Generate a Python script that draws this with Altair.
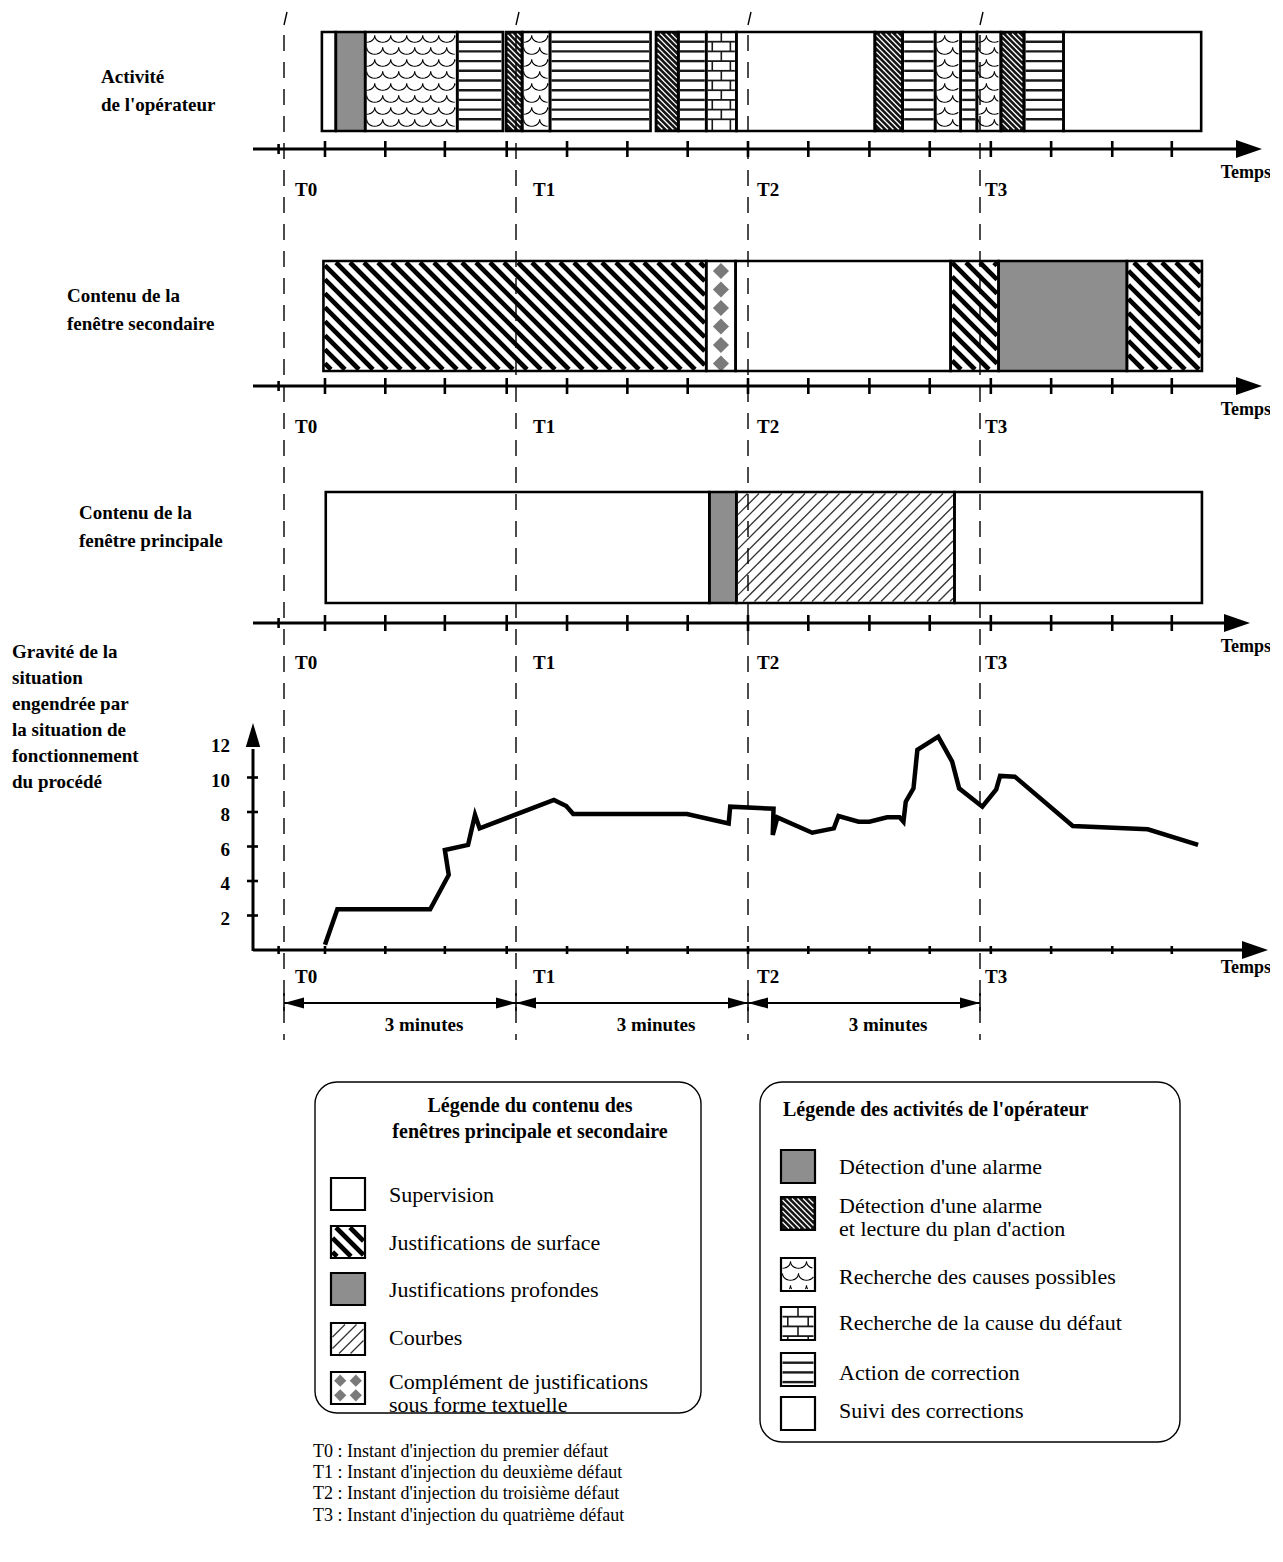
import math
import altair as alt
import pandas as pd

# ------------------------------------------------------------------ data
# time in minutes after T0 (T0..T3 three minutes apart)
T_MIN = [0, 3, 6, 9]
T_NAMES = ["T0", "T1", "T2", "T3"]
TICKS_MIN = [-0.07, 0.53, 1.31, 2.08, 2.88, 3.66, 4.44, 5.22, 6.00,
             6.78, 7.57, 8.35, 9.14, 9.92, 10.71, 11.48]

ACT_START = [0.49, 0.67, 1.05, 2.24, 2.87, 3.08, 3.44, 4.81, 5.10, 5.46,
             5.85, 7.64, 8.00, 8.42, 8.75, 8.96, 9.27, 9.57, 10.08]
ACT_END = [0.67, 1.05, 2.24, 2.83, 3.08, 3.44, 4.74, 5.10, 5.46, 5.85,
           7.64, 8.00, 8.42, 8.75, 8.96, 9.27, 9.57, 10.08, 11.86]
ACT_KIND = ["Suivi des corrections", "Détection d'une alarme",
            "Recherche des causes possibles", "Action de correction",
            "Détection d'une alarme et lecture du plan d'action",
            "Recherche des causes possibles", "Action de correction",
            "Détection d'une alarme et lecture du plan d'action",
            "Action de correction", "Recherche de la cause du défaut",
            "Suivi des corrections",
            "Détection d'une alarme et lecture du plan d'action",
            "Action de correction", "Recherche des causes possibles",
            "Action de correction", "Recherche des causes possibles",
            "Détection d'une alarme et lecture du plan d'action",
            "Action de correction", "Suivi des corrections"]

SEC_START = [0.51, 5.46, 5.84, 8.62, 9.24, 10.90]
SEC_END = [5.46, 5.84, 8.62, 9.24, 10.90, 11.87]
SEC_KIND = ["Justifications de surface",
            "Complément de justifications sous forme textuelle",
            "Supervision", "Justifications de surface",
            "Justifications profondes", "Justifications de surface"]

PRI_START = [0.54, 5.50, 5.85, 8.67]
PRI_END = [5.50, 5.85, 8.67, 11.87]
PRI_KIND = ["Supervision", "Justifications profondes", "Courbes", "Supervision"]

GRAV_T = [0.53, 0.69, 1.89, 2.13, 2.08, 2.38, 2.47, 2.53, 3.49, 3.65,
          3.74, 5.21, 5.75, 5.77, 6.33, 6.32, 6.38, 6.83, 7.11, 7.17,
          7.43, 7.57, 7.80, 7.96, 8.01, 8.04, 8.14, 8.19, 8.46, 8.64,
          8.73, 9.03, 9.21, 9.26, 9.45, 10.20, 11.17, 11.82]
GRAV_V = [0.3, 2.36, 2.36, 4.35, 5.8, 6.09, 7.83, 7.05, 8.70, 8.35,
          7.88, 7.88, 7.34, 8.31, 8.19, 6.67, 7.69, 6.80, 7.05, 7.77,
          7.44, 7.44, 7.69, 7.69, 7.44, 8.6, 9.37, 11.6, 12.37, 10.92,
          9.37, 8.31, 9.31, 10.09, 10.05, 7.19, 7.0, 6.09]
GRAV_TICKS = [2, 4, 6, 8, 10, 12]

LANE_LABELS = ["Activité\nde l'opérateur",
               "Contenu de la\nfenêtre secondaire",
               "Contenu de la\nfenêtre principale"]
GRAV_LABEL = ("Gravité de la\nsituation\nengendrée par\nla situation de\n"
              "fonctionnement\ndu procédé")
AXIS_LABEL = "Temps"
DURATION_LABEL = "3 minutes"

LEG_CONTENT_TITLE = "Légende du contenu des\nfenêtres principale et secondaire"
LEG_CONTENT = ["Supervision", "Justifications de surface",
               "Justifications profondes", "Courbes",
               "Complément de justifications sous forme textuelle"]
LEG_ACT_TITLE = "Légende des activités de l'opérateur"
LEG_ACT = ["Détection d'une alarme",
           "Détection d'une alarme et lecture du plan d'action",
           "Recherche des causes possibles",
           "Recherche de la cause du défaut",
           "Action de correction", "Suivi des corrections"]
WRAP = {"Complément de justifications sous forme textuelle":
        "Complément de justifications\nsous forme textuelle",
        "Détection d'une alarme et lecture du plan d'action":
        "Détection d'une alarme\net lecture du plan d'action"}
FOOTNOTES = ["T0 : Instant d'injection du premier défaut",
             "T1 : Instant d'injection du deuxième défaut",
             "T2 : Instant d'injection du troisième défaut",
             "T3 : Instant d'injection du quatrième défaut"]

# ------------------------------------------------------------------ styles / layout (page px)
W, H = 1262, 1534
M = 8
FONT = "Liberation Serif"
X_T0, X_T3 = 284, 980
PPM = (X_T3 - X_T0) / 9.0
AXIS_Y = [149, 386, 623, 950]
AXIS_X0 = 253
ARROW_TIP = [1262, 1262, 1250, 1268]
TICK_HALF = [8, 8, 8, 4]
LANES = {"act": (32, 131), "sec": (261, 371), "pri": (492, 603)}
T_LABEL_X = [295, 533, 757, 985]
T_LABEL_DY = [41, 41, 40, 27]
TEMPS_DY = [24, 24, 24, 18]
G_AXIS_X = 253
G_ZERO_Y, G_TOP_Y = 950, 743
DUR_Y = 1003
DASH_TOP, DASH_BOT = 35, 1040

PAT = {
    "Supervision": "white",
    "Justifications de surface": "surface",
    "Justifications profondes": "grey",
    "Courbes": "courbes",
    "Complément de justifications sous forme textuelle": "diamonds",
    "Détection d'une alarme": "grey",
    "Détection d'une alarme et lecture du plan d'action": "dark",
    "Recherche des causes possibles": "scales",
    "Recherche de la cause du défaut": "bricks",
    "Action de correction": "hlines",
    "Suivi des corrections": "white",
}
PATS = ["white", "surface", "grey", "courbes", "diamonds", "dark",
        "scales", "bricks", "hlines"]
PAT_FILL = ["#ffffff", "#ffffff", "#8e8e8e", "#ffffff", "#ffffff",
            "#141414", "#ffffff", "#ffffff", "#ffffff"]


def mpx(m):
    return X_T0 + m * PPM


XMIN = alt.Scale(domain=[0, 9], range=[X_T0 - M, X_T3 - M], zero=False, nice=False)
XPIX = alt.Scale(domain=[M, M + W], range=[0, W], zero=False, nice=False)
YPIX = alt.Scale(domain=[M, M + H], range=[0, H], zero=False, nice=False)
YGRAV = alt.Scale(domain=[0, 12], range=[G_ZERO_Y - M, G_TOP_Y - M], zero=False, nice=False)


def xm(f):
    return alt.X(f"{f}:Q", scale=XMIN, axis=None)


def xp(f):
    return alt.X(f"{f}:Q", scale=XPIX, axis=None)


def yp(f):
    return alt.Y(f"{f}:Q", scale=YPIX, axis=None)


# ------------------------------------------------------------------ pattern decoration
rules, arcs, dias = [], [], []


def add_rule(xa, ya, xb, yb, col, sw):
    rules.append(dict(x=xa, y=ya, x2=xb, y2=yb, col=col, sw=sw))


def stripes(x0, x1, y0, y1, period, direction):
    h = y1 - y0
    out = []
    k0 = int(math.floor((x0 - h) / period)) - 1
    k1 = int(math.ceil((x1 + h) / period)) + 1
    for k in range(k0, k1 + 1):
        c = k * period
        if direction == 1:
            ta, tb = max(0.0, x0 - c), min(h, x1 - c)
            if tb - ta > 1.5:
                out.append((c + ta, y0 + ta, c + tb, y0 + tb))
        else:
            ta, tb = max(0.0, c - x1), min(h, c - x0)
            if tb - ta > 1.5:
                out.append((c - ta, y0 + ta, c - tb, y0 + tb))
    return out


def hline_ys(y0, y1, step):
    ys, y = [], y0 + step
    while y < y1 - 2:
        ys.append(y)
        y += step
    return ys


def scale_arcs(x0, x1, y0, y1, w=16.0, rowh=12.0, depth=0.85):
    r = w / 2
    row, yc = 0, y0 + 2
    while yc < y1:
        off = 0 if row % 2 == 0 else r
        cx = x0 + off - w
        while cx - r < x1:
            pts = [(cx - r * math.cos(math.pi * j / 12),
                    yc + depth * r * math.sin(math.pi * j / 12)) for j in range(13)]
            run = []
            for p in pts:
                if x0 <= p[0] <= x1 and y0 <= p[1] <= y1:
                    run.append(p)
                else:
                    if len(run) > 1:
                        arcs.append(run)
                    run = []
            if len(run) > 1:
                arcs.append(run)
            cx += w
        yc += rowh
        row += 1


def decorate(x0, x1, y0, y1, pat):
    ix0, ix1, iy0, iy1 = x0 + 1.5, x1 - 1.5, y0 + 1.5, y1 - 1.5
    w, h = x1 - x0, y1 - y0
    if pat == "surface":
        for s in stripes(ix0, ix1, iy0, iy1, 14.0, 1):
            add_rule(*s, "#000000", 4.6)
    elif pat == "dark":
        for s in stripes(ix0, ix1, iy0, iy1, 5.5, 1):
            add_rule(*s, "#ffffff", 1.3)
    elif pat == "courbes":
        for s in stripes(ix0, ix1, iy0, iy1, 11.5, -1):
            add_rule(*s, "#333333", 1.3)
    elif pat == "hlines":
        for y in hline_ys(y0, y1, 9.7):
            add_rule(ix0, y, ix1, y, "#1a1a1a", 2.4)
    elif pat == "bricks":
        ys = hline_ys(y0, y1, 9.7)
        for y in ys:
            add_rule(ix0, y, ix1, y, "#1a1a1a", 1.8)
        bounds = [y0] + ys + [y1]
        for r in range(len(bounds) - 1):
            xs = [x0 + 0.5 * w] if r % 2 == 0 else [x0 + 0.2 * w, x0 + 0.8 * w]
            for xv in xs:
                add_rule(xv, bounds[r], xv, bounds[r + 1], "#1a1a1a", 1.6)
    elif pat == "scales":
        scale_arcs(ix0, ix1, iy0, iy1)
    elif pat == "diamonds":
        if h > 50:
            y = y0 + 10
            while y + 6 < y1:
                dias.append(dict(x=(x0 + x1) / 2, y=y, s=260))
                y += 18.5
        else:
            for fx in (0.27, 0.73):
                for fy in (0.27, 0.73):
                    dias.append(dict(x=x0 + fx * w, y=y0 + fy * h, s=150))


# timeline segments
segs = []
for lane, starts, ends, kinds in [("act", ACT_START, ACT_END, ACT_KIND),
                                  ("sec", SEC_START, SEC_END, SEC_KIND),
                                  ("pri", PRI_START, PRI_END, PRI_KIND)]:
    top, bot = LANES[lane]
    for s, e, k in zip(starts, ends, kinds):
        segs.append(dict(s=s, e=e, top=top, bot=bot, pat=PAT[k]))
        decorate(mpx(s), mpx(e), top, bot, PAT[k])
seg_df = pd.DataFrame(segs)

# legend swatches and labels (y = centre of the first text line)
LEFT_TOPS = [1178, 1226, 1273, 1323, 1372]
RIGHT_TOPS = [1150, 1197, 1258, 1307, 1353, 1397]
LEFT_TEXT_Y = [1195, 1243, 1290, 1338, 1382]
RIGHT_TEXT_Y = [1167, 1206, 1277, 1323, 1373, 1411]
sw_rows, leg_txt = [], []
for i, k in enumerate(LEG_CONTENT):
    x0, x1, y0 = 331, 365, LEFT_TOPS[i]
    sw_rows.append(dict(xa=x0, xb=x1, top=y0, bot=y0 + 32, pat=PAT[k]))
    decorate(x0, x1, y0, y0 + 32, PAT[k])
    leg_txt.append(dict(x=389, y=LEFT_TEXT_Y[i], t=WRAP.get(k, k)))
for i, k in enumerate(LEG_ACT):
    x0, x1, y0 = 781, 815, RIGHT_TOPS[i]
    sw_rows.append(dict(xa=x0, xb=x1, top=y0, bot=y0 + 33, pat=PAT[k]))
    decorate(x0, x1, y0, y0 + 33, PAT[k])
    leg_txt.append(dict(x=839, y=RIGHT_TEXT_Y[i], t=WRAP.get(k, k)))
sw_df = pd.DataFrame(sw_rows)
leg_txt_df = pd.DataFrame(leg_txt)

rules_df = pd.DataFrame(rules)
arc_rows = []
for g, run in enumerate(arcs):
    for i, (xv, yv) in enumerate(run):
        arc_rows.append(dict(x=xv, y=yv, g=g, i=i))
arcs_df = pd.DataFrame(arc_rows)
dias_df = pd.DataFrame(dias)

color_fill = alt.Color("pat:N", scale=alt.Scale(domain=PATS, range=PAT_FILL), legend=None)

# ------------------------------------------------------------------ layers
layers = []

# legend frames
boxes = pd.DataFrame([dict(xa=315, xb=701, top=1082, bot=1413),
                      dict(xa=760, xb=1180, top=1082, bot=1442)])
layers.append(alt.Chart(boxes).mark_rect(cornerRadius=22, fillOpacity=0, stroke="black",
                                         strokeWidth=1.4).encode(
    x=xp("xa"), x2="xb", y=yp("top"), y2="bot"))

# fills
layers.append(alt.Chart(seg_df).mark_rect(strokeWidth=0).encode(
    x=xm("s"), x2="e", y=yp("top"), y2="bot", color=color_fill))
layers.append(alt.Chart(sw_df).mark_rect(strokeWidth=0).encode(
    x=xp("xa"), x2="xb", y=yp("top"), y2="bot", color=color_fill))

# hatching
layers.append(alt.Chart(rules_df).mark_rule().encode(
    x=xp("x"), x2="x2", y=yp("y"), y2="y2",
    color=alt.Color("col:N", scale=None),
    strokeWidth=alt.StrokeWidth("sw:Q", scale=None)))
layers.append(alt.Chart(arcs_df).mark_line(color="black", strokeWidth=1.1).encode(
    x=xp("x"), y=yp("y"), detail="g:N", order="i:Q"))
layers.append(alt.Chart(dias_df).mark_point(shape="diamond", filled=True, color="#7a7a7a",
                                            opacity=1).encode(
    x=xp("x"), y=yp("y"), size=alt.Size("s:Q", scale=None)))

# outlines
layers.append(alt.Chart(seg_df).mark_rect(fillOpacity=0, stroke="black", strokeWidth=2.6).encode(
    x=xm("s"), x2="e", y=yp("top"), y2="bot"))
layers.append(alt.Chart(sw_df).mark_rect(fillOpacity=0, stroke="black", strokeWidth=2.2).encode(
    x=xp("xa"), x2="xb", y=yp("top"), y2="bot"))

# time axes
axis_df = pd.DataFrame([dict(xa=AXIS_X0, xb=ARROW_TIP[i] - 22, y=AXIS_Y[i]) for i in range(4)])
layers.append(alt.Chart(axis_df).mark_rule(color="black", strokeWidth=3).encode(
    x=xp("xa"), x2="xb", y=yp("y")))
tick_rows = []
for i, ay in enumerate(AXIS_Y):
    for j, t in enumerate(TICKS_MIN):
        hh = TICK_HALF[i] if (j > 0 or i == 3) else 5
        tick_rows.append(dict(t=t, ya=ay - hh, yb=ay + hh))
layers.append(alt.Chart(pd.DataFrame(tick_rows)).mark_rule(color="black", strokeWidth=2.6).encode(
    x=xm("t"), y=yp("ya"), y2="yb"))
arrow_df = pd.DataFrame([dict(x=ARROW_TIP[i] - 13, y=AXIS_Y[i]) for i in range(4)])
layers.append(alt.Chart(arrow_df).mark_point(shape="M -1 -0.7 L 1 0 L -1 0.7 Z", filled=True,
                                             size=676, color="black", opacity=1).encode(
    x=xp("x"), y=yp("y")))

# T reference lines
t_df = pd.DataFrame(dict(t=T_MIN, ya=[DASH_TOP] * 4, yb=[DASH_BOT] * 4,
                         sa=[25] * 4, sb=[12] * 4))
layers.append(alt.Chart(t_df).mark_rule(color="black", strokeWidth=1.4, strokeDash=[16, 11]).encode(
    x=xm("t"), y=yp("ya"), y2="yb"))
layers.append(alt.Chart(t_df).mark_rule(color="black", strokeWidth=1.4, x2Offset=3).encode(
    x=xm("t"), x2="t", y=yp("sa"), y2="sb"))

# durations
dur_df = pd.DataFrame(dict(a=T_MIN[:-1], b=T_MIN[1:],
                           mid=[(a + b) / 2 for a, b in zip(T_MIN[:-1], T_MIN[1:])],
                           y=[DUR_Y] * 3, ty=[1025] * 3, lab=[DURATION_LABEL] * 3))
layers.append(alt.Chart(dur_df).mark_rule(color="black", strokeWidth=2).encode(
    x=xm("a"), x2="b", y=yp("y")))
layers.append(alt.Chart(dur_df).mark_point(shape="M 1 -0.55 L -1 0 L 1 0.55 Z", filled=True,
                                           size=400, color="black", opacity=1, xOffset=10).encode(
    x=xm("a"), y=yp("y")))
layers.append(alt.Chart(dur_df).mark_point(shape="M -1 -0.55 L 1 0 L -1 0.55 Z", filled=True,
                                           size=400, color="black", opacity=1, xOffset=-10).encode(
    x=xm("b"), y=yp("y")))
tt_df = pd.DataFrame(dict(t=T_MIN, ya=[DUR_Y - 10] * 4, yb=[DUR_Y + 8] * 4))
layers.append(alt.Chart(tt_df).mark_rule(color="black", strokeWidth=1.5).encode(
    x=xm("t"), y=yp("ya"), y2="yb"))
layers.append(alt.Chart(dur_df).mark_text(font=FONT, fontSize=19, fontWeight="bold", dx=24,
                                          baseline="middle").encode(
    x=xm("mid"), y=yp("ty"), text="lab:N"))

# gravity chart
g_df = pd.DataFrame(dict(t=GRAV_T, v=GRAV_V, i=list(range(len(GRAV_T)))))
layers.append(alt.Chart(g_df).mark_line(color="black", strokeWidth=4.5).encode(
    x=xm("t"), y=alt.Y("v:Q", scale=YGRAV, axis=None), order="i:Q"))
gax = pd.DataFrame([dict(x=G_AXIS_X, ya=G_ZERO_Y + 1, yb=G_TOP_Y + 6)])
layers.append(alt.Chart(gax).mark_rule(color="black", strokeWidth=3).encode(
    x=xp("x"), y=yp("ya"), y2="yb"))
layers.append(alt.Chart(pd.DataFrame([dict(x=G_AXIS_X, y=G_TOP_Y - 8)])).mark_point(
    shape="M -0.6 1 L 0 -1 L 0.6 1 Z", filled=True, size=576, color="black", opacity=1).encode(
    x=xp("x"), y=yp("y")))
gt_df = pd.DataFrame(dict(v=GRAV_TICKS, xa=[G_AXIS_X - 6] * 6, xb=[G_AXIS_X + 5] * 6,
                          lx=[230] * 6))
layers.append(alt.Chart(gt_df[gt_df.v < 12]).mark_rule(color="black", strokeWidth=2.6).encode(
    x=xp("xa"), x2="xb", y=alt.Y("v:Q", scale=YGRAV, axis=None)))
layers.append(alt.Chart(gt_df).mark_text(font=FONT, fontSize=19, fontWeight="bold", align="right",
                                         baseline="middle", dy=3).encode(
    x=xp("lx"), y=alt.Y("v:Q", scale=YGRAV, axis=None), text="v:Q"))

# axis texts
tl_rows, tp_rows = [], []
for i, ay in enumerate(AXIS_Y):
    for j, nm in enumerate(T_NAMES):
        tl_rows.append(dict(x=T_LABEL_X[j], y=ay + T_LABEL_DY[i], t=nm))
    tp_rows.append(dict(x=1271, y=ay + TEMPS_DY[i], t=AXIS_LABEL))
layers.append(alt.Chart(pd.DataFrame(tl_rows)).mark_text(
    font=FONT, fontSize=19, fontWeight="bold", align="left", baseline="middle").encode(
    x=xp("x"), y=yp("y"), text="t:N"))
layers.append(alt.Chart(pd.DataFrame(tp_rows)).mark_text(
    font=FONT, fontSize=18, fontWeight="bold", align="right", baseline="middle").encode(
    x=xp("x"), y=yp("y"), text="t:N"))

# lane labels (y = centre of first line)
lane_df = pd.DataFrame([dict(x=101, y=77, t=LANE_LABELS[0]),
                        dict(x=67, y=296, t=LANE_LABELS[1]),
                        dict(x=79, y=513, t=LANE_LABELS[2])])
layers.append(alt.Chart(lane_df).mark_text(
    font=FONT, fontSize=19, fontWeight="bold", align="left", baseline="middle",
    lineBreak="\n", lineHeight=28).encode(x=xp("x"), y=yp("y"), text="t:N"))
layers.append(alt.Chart(pd.DataFrame([dict(x=12, y=652, t=GRAV_LABEL)])).mark_text(
    font=FONT, fontSize=19, fontWeight="bold", align="left", baseline="middle",
    lineBreak="\n", lineHeight=26).encode(x=xp("x"), y=yp("y"), text="t:N"))

# legend titles & items
layers.append(alt.Chart(pd.DataFrame([dict(x=530, y=1106, t=LEG_CONTENT_TITLE)])).mark_text(
    font=FONT, fontSize=20, fontWeight="bold", align="center", baseline="middle",
    lineBreak="\n", lineHeight=26).encode(x=xp("x"), y=yp("y"), text="t:N"))
layers.append(alt.Chart(pd.DataFrame([dict(x=783, y=1110, t=LEG_ACT_TITLE)])).mark_text(
    font=FONT, fontSize=20, fontWeight="bold", align="left", baseline="middle").encode(
    x=xp("x"), y=yp("y"), text="t:N"))
layers.append(alt.Chart(leg_txt_df).mark_text(
    font=FONT, fontSize=22, align="left", baseline="middle", lineBreak="\n",
    lineHeight=23).encode(x=xp("x"), y=yp("y"), text="t:N"))

# footnotes
fn_df = pd.DataFrame(dict(x=[313] * 4, y=[1452, 1473, 1494, 1516], t=FOOTNOTES))
layers.append(alt.Chart(fn_df).mark_text(
    font=FONT, fontSize=18, align="left", baseline="middle").encode(
    x=xp("x"), y=yp("y"), text="t:N"))

chart = alt.layer(*layers).resolve_scale(
    x="independent", y="independent", color="independent",
    strokeWidth="independent", size="independent"
).properties(
    width=W, height=H, padding=0, autosize=alt.AutoSizeParams(type="none"),
    background="white"
).configure_view(stroke=None)

chart.save("out.html", embed_options={"renderer": "svg", "actions": False})
